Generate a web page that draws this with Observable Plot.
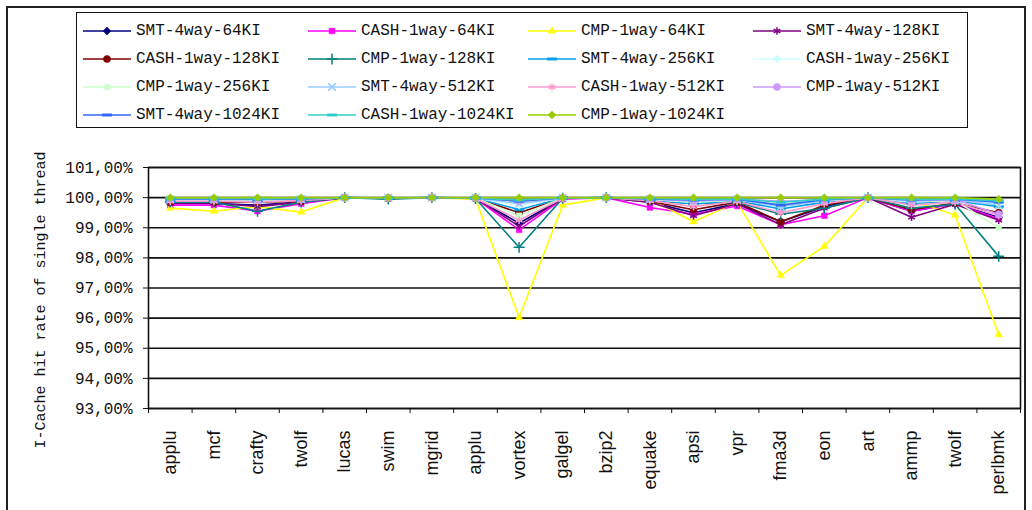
<!DOCTYPE html>
<html>
<head>
<meta charset="utf-8">
<script src="https://cdn.jsdelivr.net/npm/d3@7"></script>
<script src="https://cdn.jsdelivr.net/npm/@observablehq/plot@0.6"></script>
<style>
  html, body { margin: 0; padding: 0; background: #fff; }
  #root { position: relative; width: 1032px; height: 510px; overflow: hidden; background: #fff; }
  #legend { position: absolute; left: 76px; top: 12px; width: 892px; height: 116px; border: 1.5px solid #111; box-sizing: border-box; }
  .item { position: absolute; font-family: "Liberation Mono", "DejaVu Sans Mono", monospace; font-size: 16px; color: #111; white-space: nowrap; display: flex; align-items: center; }
  .item svg { margin-right: 5px; }
  #chart { position: absolute; left: 0; top: 135px; }
  #chart svg { overflow: visible; }
  #outer { position: absolute; left: 6px; top: 6px; width: 1020px; height: 530px; border: 2px solid #222; box-sizing: border-box; pointer-events: none; }
</style>
</head>
<body>
<div id="root">
  <div id="outer"></div>
  <div id="legend"></div>
  <div id="chart"></div>
</div>
<script>
// ---------------- data ----------------
const categories = ["applu","mcf","crafty","twolf","lucas","swim","mgrid","applu","vortex","galgel","bzip2","equake","apsi","vpr","fma3d","eon","art","ammp","twolf","perlbmk"];

const seriesNames = [
  "SMT-4way-64KI","CASH-1way-64KI","CMP-1way-64KI","SMT-4way-128KI",
  "CASH-1way-128KI","CMP-1way-128KI","SMT-4way-256KI","CASH-1way-256KI",
  "CMP-1way-256KI","SMT-4way-512KI","CASH-1way-512KI","CMP-1way-512KI",
  "SMT-4way-1024KI","CASH-1way-1024KI","CMP-1way-1024KI"
];

const smt64   = [99.80,99.80,99.75,99.85,100,99.98,100,99.98,99.15,99.98,100,99.85,99.50,99.80,99.20,99.70,100,99.55,99.80,99.35];
const cash64  = [99.75,99.75,99.55,99.80,100,99.97,100,99.97,98.93,99.95,100,99.67,99.45,99.72,99.10,99.40,100,99.55,99.80,99.30];
const cmp64   = [99.65,99.55,99.70,99.52,100,99.97,100,99.95,96.02,99.75,100,99.95,99.20,99.85,97.42,98.38,100,99.90,99.42,95.45];
const smt128  = [99.82,99.82,99.70,99.85,100,99.97,100,99.98,99.05,99.98,100,99.85,99.40,99.80,99.10,99.65,100,99.35,99.78,99.25];
const cash128 = [99.85,99.85,99.85,99.88,100,99.98,100,99.98,99.50,99.98,100,99.88,99.60,99.85,99.20,99.75,100,99.60,99.82,99.50];
const cmp128  = [99.85,99.85,99.55,99.85,100,99.95,100,99.97,98.35,99.98,100,99.90,99.80,99.85,99.45,99.65,100,99.65,99.78,98.05];
const smt256  = [99.90,99.90,99.88,99.92,100,99.98,100,99.99,99.60,99.99,100,99.92,99.80,99.90,99.62,99.85,100,99.80,99.90,99.70];
const cash256 = [99.93,99.93,99.92,99.94,100,99.99,100,99.99,99.75,99.99,100,99.95,99.85,99.92,99.75,99.90,100,99.85,99.92,99.80];
const cmp256  = [99.92,99.92,99.90,99.93,100,99.99,100,99.99,99.40,99.99,100,99.94,99.85,99.92,99.80,99.88,100,99.88,99.90,99.00];
const smt512  = [99.94,99.94,99.93,99.95,100,99.99,100,99.99,99.80,99.99,100,99.95,99.88,99.93,99.70,99.90,100,99.88,99.93,99.75];
const cash512 = [99.88,99.88,99.85,99.90,100,99.98,100,99.98,99.25,99.98,100,99.90,99.70,99.88,99.50,99.80,100,99.75,99.85,99.40];
const cmp512  = [99.95,99.95,99.94,99.95,100,99.99,100,99.99,99.88,99.99,100,99.96,99.90,99.95,99.88,99.93,100,99.92,99.94,99.45];
const smt1024 = [99.96,99.96,99.95,99.96,100,99.99,100,99.99,99.88,99.99,100,99.96,99.92,99.95,99.75,99.93,100,99.92,99.95,99.85];
const cash1024= [99.97,99.97,99.96,99.97,100,99.99,100,99.99,99.92,99.99,100,99.97,99.94,99.96,99.85,99.95,100,99.94,99.96,99.90];
const cmp1024 = [100,100,100,100,100,100,100,100,100,100,100,100,100,100,100,100,100,100,100,99.95];

const seriesValues = [smt64,cash64,cmp64,smt128,cash128,cmp128,smt256,cash256,cmp256,smt512,cash512,cmp512,smt1024,cash1024,cmp1024];

const yTicks = [93,94,95,96,97,98,99,100,101];
const yTitle = "I-Cache hit rate of single thread";

// ---------------- styles ----------------
const colors = ["#000080","#FF00FF","#FFFF00","#800080","#800000","#008080","#00A0E8","#CCFFFF","#CCFFCC","#99CCFF","#FF99CC","#CC99FF","#3366FF","#33CCCC","#99CC00"];
const dash = { draw(ctx, size) { const w = Math.sqrt(size) * 0.75; ctx.moveTo(-w, -1.2); ctx.lineTo(w, -1.2); ctx.lineTo(w, 1.2); ctx.lineTo(-w, 1.2); ctx.closePath(); } };
const symbols = ["diamond2","square2","triangle2","asterisk","circle","plus",dash,"diamond2","square2","times","asterisk","circle",dash,dash,"diamond2"];
const filled = [true,true,true,false,true,false,true,true,true,false,false,true,true,true,true];

// ---------------- table ----------------
const rows = [];
seriesNames.forEach((s, k) => seriesValues[k].forEach((v, i) => rows.push({series: s, k, i, v})));

const fmt = d => d.toFixed(2).replace(".", ",") + "%";
const idx = categories.map((_, i) => i);
const bounds = d3.range(categories.length + 1).map(i => i - 0.5);

const marks = [
  Plot.gridY(yTicks, {stroke: "#111", strokeOpacity: 1, strokeWidth: 1.6}),
  Plot.frame({stroke: "#111", strokeWidth: 1.6}),
  Plot.axisY(yTicks, {tickFormat: fmt, tickSize: 5, tickPadding: 11, label: null, fontSize: 16, stroke: "#111"}),
  Plot.axisX(bounds, {tickFormat: () => "", tickSize: 5, label: null, stroke: "#111"}),
  Plot.axisX(idx, {tickFormat: i => categories[i], tickSize: 0, tickPadding: 22, tickRotate: -90, fontFamily: "Liberation Sans, Arial, sans-serif", fontSize: 18, label: null})
];
seriesNames.forEach((s, k) => {
  const data = rows.filter(r => r.k === k);
  marks.push(Plot.line(data, {x: "i", y: "v", stroke: colors[k], strokeWidth: 1.6}));
});
seriesNames.forEach((s, k) => {
  const data = rows.filter(r => r.k === k);
  marks.push(Plot.dot(data, {x: "i", y: "v", symbol: symbols[k], r: 3.6,
    fill: filled[k] ? colors[k] : "none", stroke: colors[k], strokeWidth: filled[k] ? 0.5 : 1.5}));
});
marks.push(Plot.text([yTitle], {text: d => d, frameAnchor: "left", textAnchor: "middle", rotate: -90, dx: -108, dy: 12, fontSize: 15, fill: "#111"}));

const chart = Plot.plot({
  width: 1032, height: 375,
  marginTop: 32, marginBottom: 102, marginLeft: 148, marginRight: 12,
  x: {type: "linear", domain: [-0.5, categories.length - 0.5]},
  y: {domain: [93, 101]},
  style: {fontFamily: "Liberation Mono, DejaVu Sans Mono, monospace", fontSize: "16px", color: "#111", background: "transparent", overflow: "visible"},
  marks
});
document.getElementById("chart").appendChild(chart);

// ---------------- legend ----------------
const colX = [6, 231, 451, 676];
const rowY = [18, 46, 74, 102];
const legend = d3.select("#legend");
seriesNames.forEach((s, k) => {
  const c = k % 4, r = Math.floor(k / 4);
  const item = legend.append("div").attr("class", "item")
    .style("left", colX[c] + "px").style("top", (rowY[r] - 10) + "px").style("height", "20px");
  const svg = item.append("svg").attr("width", 48).attr("height", 14);
  svg.append("line").attr("x1", 0).attr("x2", 48).attr("y1", 7).attr("y2", 7)
    .attr("stroke", colors[k]).attr("stroke-width", 1.6);
  const sym = symbols[k];
  const typeMap = {diamond2: d3.symbolDiamond2, square2: d3.symbolSquare2, triangle2: d3.symbolTriangle2,
    asterisk: d3.symbolAsterisk, circle: d3.symbolCircle, plus: d3.symbolPlus, times: d3.symbolTimes};
  const type = typeof sym === "string" ? typeMap[sym] : sym;
  svg.append("path").attr("transform", "translate(24,7)")
    .attr("d", d3.symbol(type, Math.PI * 3.6 * 3.6)())
    .attr("fill", filled[k] ? colors[k] : "none").attr("stroke", colors[k])
    .attr("stroke-width", filled[k] ? 0.5 : 1.5);
  item.append("span").text(s);
});
</script>
</body>
</html>
